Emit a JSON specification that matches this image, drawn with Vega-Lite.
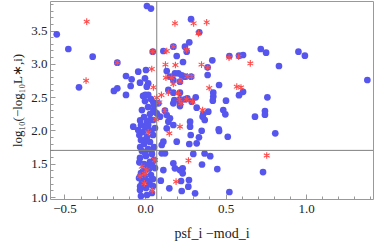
{
  "$schema": "https://vega.github.io/schema/vega-lite/v6.json",
  "autosize": {"type": "none"},
  "padding": {"left": 50, "top": 1, "right": 1, "bottom": 47},
  "width": 323,
  "height": 198,
  "background": "white",
  "config": {
    "view": {"stroke": "#999999", "strokeWidth": 1},
    "axis": {"labelFont": "Liberation Serif", "titleFont": "Liberation Serif", "labelFontSize": 13, "titleFontSize": 14, "labelColor": "#222", "titleColor": "#222", "titleFontWeight": "normal", "grid": false, "domain": false, "tickColor": "#999999"}
  },
  "datasets": {
    "blue": [
      {"x": -0.548, "y": 3.443}, {"x": -0.476, "y": 3.222}, {"x": -0.325, "y": 3.107}, {"x": -0.172, "y": 3.017},
      {"x": -0.41, "y": 2.647}, {"x": -0.193, "y": 2.592}, {"x": -0.172, "y": 2.632}, {"x": -0.118, "y": 2.817},
      {"x": -0.083, "y": 2.767}, {"x": -0.089, "y": 2.667}, {"x": -0.042, "y": 2.881}, {"x": 0.006, "y": 2.907},
      {"x": 0.0, "y": 2.782}, {"x": 0.02, "y": 2.707}, {"x": 0.011, "y": 2.656}, {"x": -0.118, "y": 2.532},
      {"x": 0.002, "y": 2.532}, {"x": 0.02, "y": 2.532}, {"x": 0.048, "y": 3.182}, {"x": 0.012, "y": 3.868},
      {"x": 0.037, "y": 3.83}, {"x": 0.286, "y": 3.67}, {"x": 0.337, "y": 3.473}, {"x": 0.275, "y": 3.323},
      {"x": 0.114, "y": 3.192}, {"x": 0.176, "y": 3.257}, {"x": 0.197, "y": 3.117}, {"x": 0.236, "y": 3.027},
      {"x": 0.259, "y": 3.182}, {"x": 0.248, "y": 3.257}, {"x": 0.135, "y": 2.892}, {"x": 0.155, "y": 2.806},
      {"x": 0.176, "y": 2.757}, {"x": 0.186, "y": 2.857}, {"x": 0.228, "y": 2.827}, {"x": 0.418, "y": 3.053},
      {"x": 0.389, "y": 2.947}, {"x": 0.389, "y": 2.832}, {"x": 0.524, "y": 3.117}, {"x": 0.584, "y": 3.122},
      {"x": 0.609, "y": 3.132}, {"x": 0.719, "y": 3.222}, {"x": 0.752, "y": 3.167}, {"x": 0.953, "y": 3.182},
      {"x": 0.993, "y": 3.122}, {"x": 0.832, "y": 2.967}, {"x": 1.381, "y": 2.757}, {"x": 0.46, "y": 2.682},
      {"x": 0.609, "y": 2.58}, {"x": 0.584, "y": 2.529}, {"x": 0.424, "y": 2.566}, {"x": 0.424, "y": 2.509},
      {"x": 0.421, "y": 2.446}, {"x": 0.503, "y": 2.446}, {"x": 0.76, "y": 2.497}, {"x": 0.486, "y": 2.306},
      {"x": 0.499, "y": 2.242}, {"x": 0.745, "y": 2.291}, {"x": 0.745, "y": 2.236}, {"x": 0.683, "y": 2.206},
      {"x": 0.458, "y": 2.017}, {"x": 0.809, "y": 1.956}, {"x": 0.514, "y": 1.905}, {"x": 0.46, "y": 1.991},
      {"x": 0.352, "y": 1.995}, {"x": 0.335, "y": 1.896}, {"x": 0.321, "y": 1.806}, {"x": 0.28, "y": 2.056},
      {"x": 0.284, "y": 1.931}, {"x": 0.275, "y": 1.796}, {"x": 0.371, "y": 2.156}, {"x": 0.393, "y": 2.281},
      {"x": 0.362, "y": 2.246}, {"x": 0.321, "y": 2.341}, {"x": 0.358, "y": 2.206}, {"x": 0.263, "y": 2.482},
      {"x": 0.315, "y": 2.497}, {"x": 0.217, "y": 2.566}, {"x": 0.217, "y": 2.731}, {"x": 0.248, "y": 2.806},
      {"x": 0.286, "y": 2.806}, {"x": 0.217, "y": 2.366}, {"x": 0.3, "y": 1.646}, {"x": 0.37, "y": 1.653},
      {"x": 0.405, "y": 1.613}, {"x": 0.354, "y": 1.488}, {"x": 0.449, "y": 1.42}, {"x": 0.733, "y": 1.375},
      {"x": 0.524, "y": 1.075}, {"x": 0.234, "y": 1.431}, {"x": 0.234, "y": 1.356}, {"x": 0.273, "y": 1.255},
      {"x": 0.224, "y": 1.24}, {"x": 0.269, "y": 1.155}, {"x": 0.228, "y": 1.09}, {"x": 0.311, "y": 1.056},
      {"x": 0.124, "y": 1.656}, {"x": 0.104, "y": 1.656}, {"x": 0.176, "y": 1.506}, {"x": 0.186, "y": 1.431},
      {"x": 0.114, "y": 1.405}, {"x": 0.098, "y": 1.245}, {"x": 0.151, "y": 1.131}, {"x": 0.217, "y": 1.405},
      {"x": 0.197, "y": 1.83}, {"x": 0.176, "y": 2.081}, {"x": 0.135, "y": 2.032}, {"x": 0.114, "y": 1.83},
      {"x": 0.104, "y": 1.781}, {"x": 0.135, "y": 2.231}, {"x": 0.155, "y": 2.182}, {"x": 0.145, "y": 2.131},
      {"x": 0.093, "y": 2.206}, {"x": 0.052, "y": 2.422}, {"x": 0.083, "y": 2.407}, {"x": 0.052, "y": 2.306},
      {"x": 0.073, "y": 2.257}, {"x": -0.073, "y": 2.056}, {"x": -0.042, "y": 2.006}, {"x": 0.28, "y": 2.131},
      {"x": 0.207, "y": 2.857}, {"x": 0.145, "y": 2.607}, {"x": 0.176, "y": 2.566}, {"x": 0.182, "y": 2.456},
      {"x": 0.176, "y": 2.407}, {"x": -0.031, "y": 2.716}, {"x": 0.124, "y": 2.296}, {"x": 0.031, "y": 2.156},
      {"x": 0.02, "y": 2.081}, {"x": 0.0, "y": 2.056}, {"x": 0.217, "y": 2.467}, {"x": 0.217, "y": 2.416},
      {"x": 0.248, "y": 2.467}, {"x": 0.29, "y": 2.431},
      {"x": -0.025, "y": 1.015}, {"x": 0.012, "y": 1.03}, {"x": 0.043, "y": 1.06}, {"x": -0.031, "y": 1.105},
      {"x": 0.006, "y": 1.135}, {"x": 0.05, "y": 1.165}, {"x": -0.019, "y": 1.21}, {"x": 0.019, "y": 1.24},
      {"x": -0.037, "y": 1.285}, {"x": 0.0, "y": 1.315}, {"x": 0.037, "y": 1.33}, {"x": -0.012, "y": 1.39},
      {"x": 0.025, "y": 1.42}, {"x": 0.062, "y": 1.435}, {"x": -0.006, "y": 1.495}, {"x": 0.031, "y": 1.526},
      {"x": 0.056, "y": 1.556}, {"x": -0.031, "y": 1.586}, {"x": 0.006, "y": 1.616}, {"x": 0.043, "y": 1.646},
      {"x": -0.019, "y": 1.691}, {"x": 0.019, "y": 1.721}, {"x": 0.056, "y": 1.751}, {"x": -0.006, "y": 1.796},
      {"x": 0.031, "y": 1.826}, {"x": -0.025, "y": 1.856}, {"x": 0.012, "y": 1.901}, {"x": 0.05, "y": 1.931},
      {"x": -0.012, "y": 1.976}, {"x": 0.025, "y": 2.006}, {"x": 0.062, "y": 2.036}, {"x": -0.025, "y": 2.081},
      {"x": 0.012, "y": 2.126}, {"x": 0.05, "y": 2.156}, {"x": -0.006, "y": 2.201}, {"x": 0.031, "y": 2.246},
      {"x": -0.019, "y": 2.306}, {"x": 0.019, "y": 2.351}, {"x": 0.056, "y": 2.381}, {"x": 0.0, "y": 2.441},
      {"x": 0.037, "y": 2.471}, {"x": -0.012, "y": 2.517},
      {"x": -0.03, "y": 1.16}, {"x": 0.03, "y": 1.19}, {"x": -0.01, "y": 1.26}, {"x": 0.05, "y": 1.27},
      {"x": -0.025, "y": 1.36}, {"x": 0.015, "y": 1.47}, {"x": -0.035, "y": 1.52}, {"x": 0.045, "y": 1.5},
      {"x": 0.0, "y": 1.66}, {"x": -0.03, "y": 1.75}, {"x": 0.04, "y": 1.7}, {"x": 0.005, "y": 1.86},
      {"x": -0.035, "y": 1.93}, {"x": 0.04, "y": 1.99}, {"x": -0.03, "y": 2.15}, {"x": 0.06, "y": 2.28}
    ],
    "red": [
      {"x": -0.362, "y": 3.632}, {"x": -0.366, "y": 2.746}, {"x": -0.172, "y": 3.017}, {"x": 0.042, "y": 2.922},
      {"x": 0.052, "y": 2.647}, {"x": 0.048, "y": 3.182}, {"x": 0.186, "y": 3.608}, {"x": 0.302, "y": 3.608},
      {"x": 0.383, "y": 3.623}, {"x": 0.332, "y": 3.458}, {"x": 0.259, "y": 3.207}, {"x": 0.135, "y": 3.192},
      {"x": 0.176, "y": 3.257}, {"x": 0.127, "y": 2.989}, {"x": 0.189, "y": 2.982}, {"x": 0.351, "y": 2.989},
      {"x": 0.389, "y": 2.941}, {"x": 0.522, "y": 3.092}, {"x": 0.582, "y": 3.107}, {"x": 0.654, "y": 3.005},
      {"x": 0.13, "y": 2.791}, {"x": 0.166, "y": 2.791}, {"x": 0.263, "y": 2.812}, {"x": 0.289, "y": 2.809},
      {"x": 0.217, "y": 2.742}, {"x": 0.176, "y": 2.697}, {"x": 0.399, "y": 2.637}, {"x": 0.57, "y": 2.656},
      {"x": 0.596, "y": 2.644}, {"x": 0.102, "y": 2.532}, {"x": 0.073, "y": 2.491}, {"x": 0.145, "y": 2.566},
      {"x": 0.207, "y": 2.557}, {"x": 0.214, "y": 2.467}, {"x": 0.224, "y": 2.407}, {"x": 0.259, "y": 2.467},
      {"x": 0.296, "y": 2.431}, {"x": 0.089, "y": 2.422}, {"x": 0.124, "y": 2.299}, {"x": 0.358, "y": 2.306},
      {"x": 0.068, "y": 2.167}, {"x": 0.217, "y": 2.056}, {"x": 0.151, "y": 1.956}, {"x": 0.02, "y": 1.971},
      {"x": 0.27, "y": 1.548}, {"x": 0.062, "y": 1.556}, {"x": -0.02, "y": 1.455}, {"x": 0.011, "y": 1.405},
      {"x": 0.0, "y": 1.345}, {"x": -0.031, "y": 1.315}, {"x": -0.004, "y": 1.206}, {"x": 0.045, "y": 1.095},
      {"x": 0.193, "y": 1.23}, {"x": 0.756, "y": 1.623}
    ]
  },
  "encoding": {
    "x": {"field": "x", "type": "quantitative", "scale": {"domain": [-0.59, 1.416], "nice": false, "zero": false},
      "axis": {"orient": "bottom", "title": "psf_i −mod_i", "titlePadding": 9,
        "values": [-0.5, -0.4, -0.3, -0.2, -0.1, 0, 0.1, 0.2, 0.3, 0.4, 0.5, 0.6, 0.7, 0.8, 0.9, 1.0, 1.1, 1.2, 1.3, 1.4],
        "labelExpr": "abs(datum.value*2 - round(datum.value*2)) < 0.001 ? format(datum.value, '.1f') : ''",
        "tickSize": {"condition": {"test": "abs(datum.value*2 - round(datum.value*2)) < 0.001", "value": -5}, "value": -3},
        "labelPadding": 8, "labelFlush": false, "labelOverlap": false}},
    "y": {"field": "y", "type": "quantitative", "scale": {"domain": [0.97, 3.943], "nice": false, "zero": false},
      "axis": {"orient": "left", "title": "log₁₀(−log₁₀L∗,i)", "titlePadding": 6, "titleFontSize": 13,
        "values": [1.0, 1.1, 1.2, 1.3, 1.4, 1.5, 1.6, 1.7, 1.8, 1.9, 2.0, 2.1, 2.2, 2.3, 2.4, 2.5, 2.6, 2.7, 2.8, 2.9, 3.0, 3.1, 3.2, 3.3, 3.4, 3.5, 3.6, 3.7, 3.8, 3.9],
        "labelExpr": "abs(datum.value*2 - round(datum.value*2)) < 0.001 ? format(datum.value, '.1f') : ''",
        "tickSize": {"condition": {"test": "abs(datum.value*2 - round(datum.value*2)) < 0.001", "value": -5}, "value": -3},
        "labelPadding": 8, "labelFlush": false, "labelOverlap": false}}
  },
  "layer": [
    {
      "data": {"name": "blue"},
      "mark": {"type": "point", "shape": "circle", "filled": true, "size": 45, "color": "#5656ef", "opacity": 1}
    },
    {
      "data": {"name": "red"},
      "mark": {"type": "point", "shape": "M0,-1L0,1M-0.87,-0.5L0.87,0.5M-0.87,0.5L0.87,-0.5", "filled": false, "size": 45, "color": "#ff4a4a", "strokeWidth": 1.1, "opacity": 1}
    },
    {
      "data": {"values": [{"v": 0.073}]},
      "mark": {"type": "rule", "color": "#808080", "strokeWidth": 1},
      "encoding": {"x": {"field": "v", "type": "quantitative"}, "y": null}
    },
    {
      "data": {"values": [{"v": 1.7}]},
      "mark": {"type": "rule", "color": "#808080", "strokeWidth": 1},
      "encoding": {"y": {"field": "v", "type": "quantitative"}, "x": null}
    }
  ]
}
